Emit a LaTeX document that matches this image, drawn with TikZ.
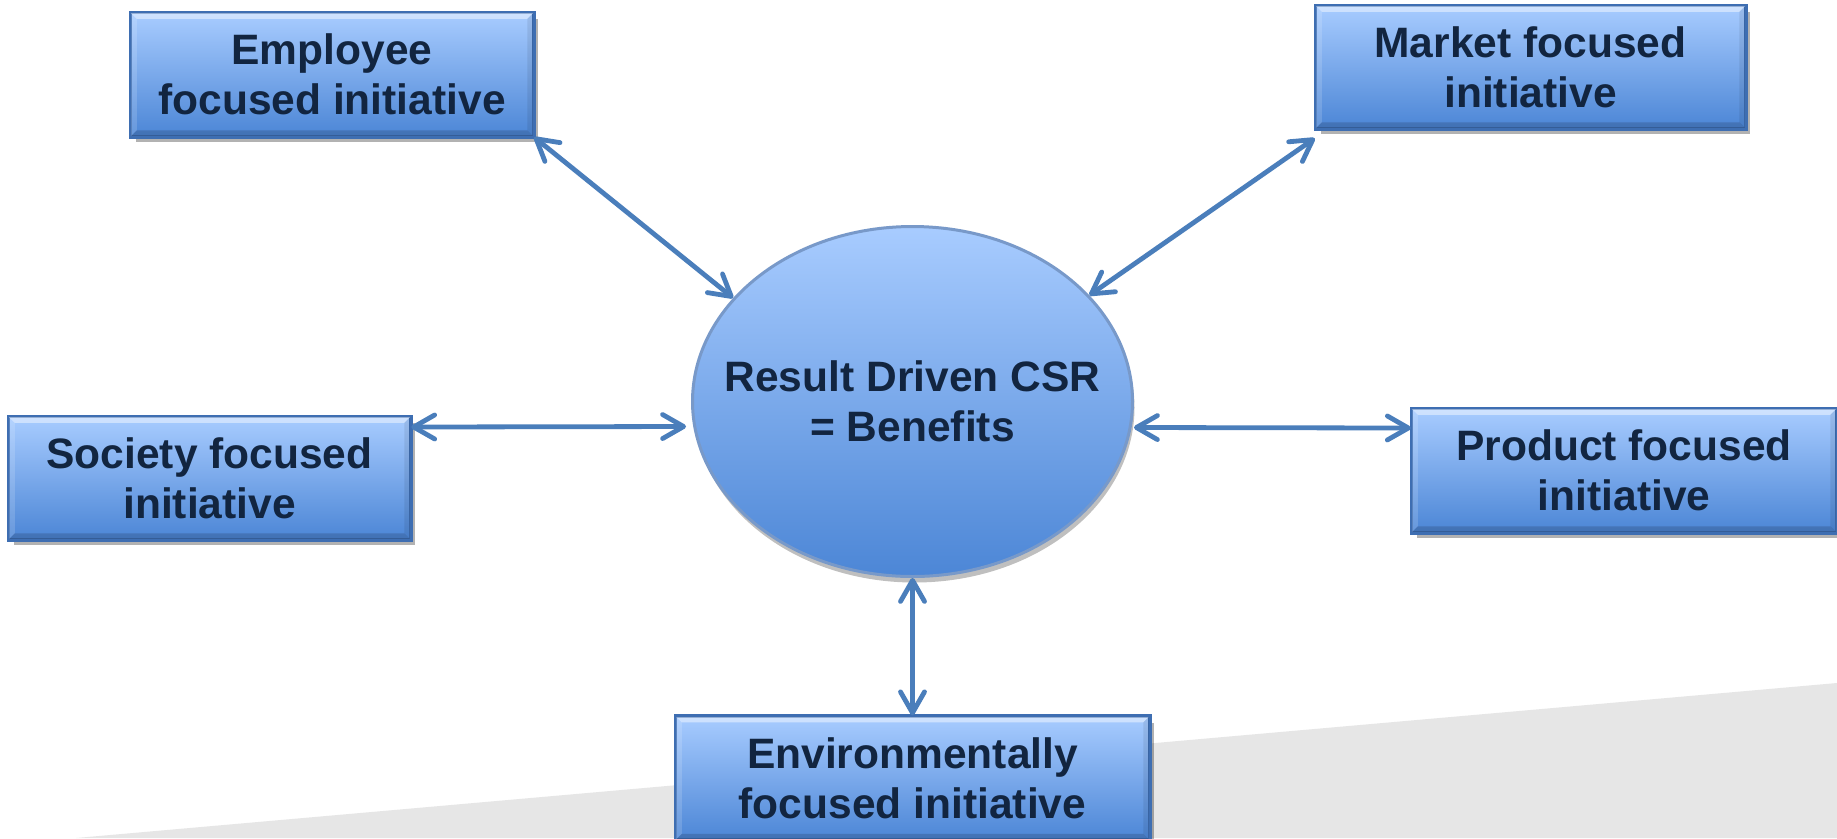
\documentclass[tikz,border=0pt]{standalone}
\usepackage{fontspec}
\setmainfont{Liberation Sans}
\usetikzlibrary{arrows.meta,shadows,calc,shapes.geometric}
\definecolor{boxtop}{RGB}{168,204,255}
\definecolor{boxbot}{RGB}{76,134,214}
\definecolor{boxedge}{RGB}{62,110,178}
\definecolor{txt}{RGB}{18,37,64}
\definecolor{arr}{RGB}{74,126,187}
\definecolor{bggrey}{RGB}{230,230,230}
\tikzset{
  initbox/.style={rectangle, inner sep=0pt, draw=boxedge, line width=0.25mm,
    top color=boxtop, bottom color=boxbot, text=txt, align=center,
    font=\fontsize{12.1pt}{14.2pt}\selectfont\bfseries,
    drop shadow={shadow xshift=0.45mm, shadow yshift=-0.6mm, opacity=0.3, fill=black}},
  hub/.style={ellipse, inner xsep=-5mm, inner ysep=-2.5mm, draw=boxedge!70, line width=0.3mm,
    top color=boxtop, bottom color=boxbot, text=txt, align=center,
    minimum width=44mm, minimum height=35mm,
    font=\fontsize{12.1pt}{14.2pt}\selectfont\bfseries,
    drop shadow={shadow xshift=0.2mm, shadow yshift=-0.6mm, opacity=0.25, fill=black}},
  link/.style={draw=arr, line width=0.48mm,
    {Straight Barb[length=2.1mm,width=2.4mm,round]}-{Straight Barb[length=2.1mm,width=2.4mm,round]}}
}
\newcommand\bevelize[1]{%
  \fill[white,opacity=0.45] (#1.north west) -- (#1.north east) -- ([xshift=-0.7mm,yshift=-0.7mm]#1.north east) -- ([xshift=0.7mm,yshift=-0.7mm]#1.north west) -- cycle;
  \fill[white,opacity=0.15] (#1.north west) -- ([xshift=0.7mm,yshift=-0.7mm]#1.north west) -- ([xshift=0.7mm,yshift=0.7mm]#1.south west) -- (#1.south west) -- cycle;
  \fill[black,opacity=0.08] (#1.north east) -- ([xshift=-0.7mm,yshift=-0.7mm]#1.north east) -- ([xshift=-0.7mm,yshift=0.7mm]#1.south east) -- (#1.south east) -- cycle;
  \fill[black,opacity=0.15] (#1.south west) -- ([xshift=0.7mm,yshift=0.7mm]#1.south west) -- ([xshift=-0.7mm,yshift=0.7mm]#1.south east) -- (#1.south east) -- cycle;
  \draw[boxedge, line width=0.25mm] (#1.north west) rectangle (#1.south east);
}
\begin{document}
\begin{tikzpicture}[x=0.1mm, y=-0.1mm]
\useasboundingbox[fill=white] (0,0) rectangle (1837,838);
\fill[bggrey] (76,838) -- (1837,683) -- (1837,838) -- cycle;

\node[initbox, minimum width=40.2mm, minimum height=12.3mm] (emp) at (332,74.5) {Employee\\focused initiative};
\node[initbox, minimum width=42.9mm, minimum height=12.2mm] (mkt) at (1530.5,67) {Market focused\\initiative};
\node[initbox, minimum width=40.1mm, minimum height=12.2mm] (soc) at (209.5,478) {Society focused\\initiative};
\node[initbox, minimum width=42.4mm, minimum height=12.3mm] (prod) at (1624,470.5) {Product focused\\initiative};
\node[initbox, minimum width=47.3mm, minimum height=12.3mm] (env) at (912.5,778) {Environmentally\\focused initiative};
\node[hub] (hub) at (912.5,401.5) {Result Driven CSR\\= Benefits};

\bevelize{emp}
\bevelize{mkt}
\bevelize{soc}
\bevelize{prod}
\bevelize{env}

\draw[link] (emp.south east) -- (hub.150.5);
\draw[link] ([yshift=-0.9mm]mkt.south west) -- (hub.31.8);
\draw[link] ([yshift=5.1mm]soc.east) -- ([xshift=-0.5mm,yshift=-2.5mm]hub.west);
\draw[link] ([yshift=-2.6mm]hub.east) -- ([yshift=4.25mm]prod.west);
\draw[link] (hub.south) -- (env.north);
\end{tikzpicture}
\end{document}
